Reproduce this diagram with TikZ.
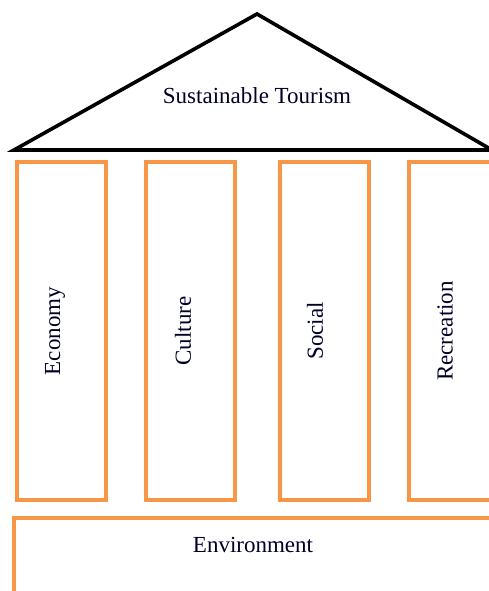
\documentclass[tikz,border=0pt]{standalone}
\usepackage{fontspec}
\setmainfont{Liberation Serif}
\definecolor{pillarorange}{HTML}{F79646}
\tikzset{
  pillar/.style={draw=pillarorange, line width=3.2pt, rectangle, minimum width=89pt, minimum height=338pt, inner sep=0pt},
  lbl/.style={font=\fontsize{23}{26}\selectfont, text=black!85!blue},
  roof/.style={draw=black, line width=3.6pt, line join=miter}
}
\begin{document}
\begin{tikzpicture}[x=1pt,y=1pt]
\useasboundingbox (0,0) rectangle (489,591);
\clip (0,0) rectangle (489,591);
% roof
\coordinate (apex) at (257,577);
\coordinate (bl) at (14,441);
\coordinate (br) at (492,441);
\draw[roof] (bl) -- (apex) -- (br) -- cycle;
\node[lbl] (title) at (257,495) {Sustainable Tourism};
% pillars
\node[pillar] (eco) at (61.5,260) {};
\node[pillar] (cul) at (190.5,260) {};
\node[pillar] (soc) at (324.5,260) {};
\node[pillar] (rec) at (453.5,260) {};
\node[lbl, rotate=90] (ecolbl) at (55,260) {Economy};
\node[lbl, rotate=90] (cullbl) at (183,260) {Culture};
\node[lbl, rotate=90] (soclbl) at (315,260) {Social};
\node[lbl, rotate=90] (reclbl) at (445,260) {Recreation};
% base
\coordinate (envbl) at (14,-10);
\coordinate (envtr) at (505,73);
\draw[draw=pillarorange, line width=3.2pt] (envbl) rectangle (envtr);
\node[lbl] (env) at (253,46) {Environment};
\end{tikzpicture}
\end{document}
